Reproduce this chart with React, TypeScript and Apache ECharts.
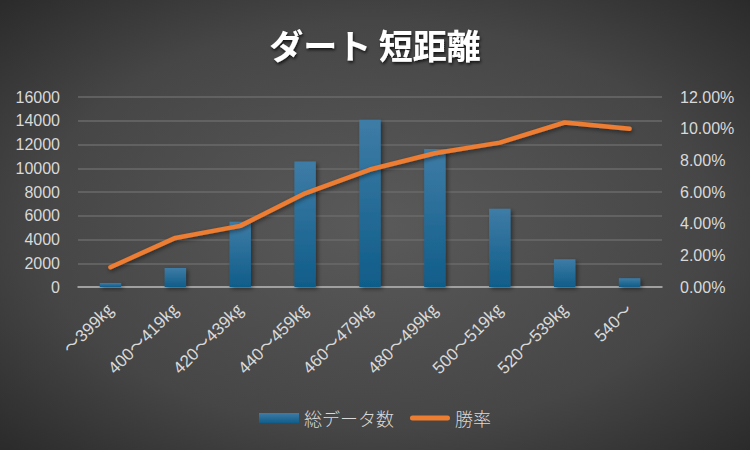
import React, { useEffect, useRef } from "react";
import * as echarts from "echarts";

const categories = ["～399㎏", "400～419㎏", "420～439㎏", "440～459㎏", "460～479㎏", "480～499㎏", "500～519㎏", "520～539㎏", "540～"];
const totalData = [340, 1600, 5490, 10560, 14080, 11630, 6590, 2340, 740];
const winRate = [0.0125, 0.031, 0.0386, 0.0592, 0.0742, 0.0845, 0.0912, 0.1039, 0.0999];
const leftTicks = { min: 0, max: 16000, interval: 2000 };
const rightTicks = { min: 0, max: 0.12, interval: 0.02 };

const FONT = '"Liberation Sans", "Noto Sans CJK JP", sans-serif';
const CJK = '"Noto Sans CJK JP", sans-serif';

export default function App() {
  const ref = useRef<HTMLDivElement>(null);
  useEffect(() => {
    document.body.style.margin = "0";
    const chart = echarts.init(ref.current!, null, { renderer: "svg" });
    chart.setOption({
      animation: false,
      backgroundColor: new echarts.graphic.RadialGradient(0.5, 0.5, 0.75, [
        { offset: 0, color: "#5a5a5a" },
        { offset: 0.6, color: "#464646" },
        { offset: 1, color: "#262626" },
      ]),
      title: {
        text: "ダート 短距離",
        left: "center",
        top: 22,
        textStyle: {
          color: "#ffffff",
          fontSize: 34,
          fontWeight: "bold",
          fontFamily: CJK,
          textShadowColor: "rgba(0,0,0,0.7)",
          textShadowBlur: 3,
          textShadowOffsetX: 1,
          textShadowOffsetY: 2,
        },
      },
      grid: { left: 78, right: 88, top: 97, bottom: 163 },
      legend: {
        bottom: 18,
        left: "center",
        itemGap: 16,
        itemWidth: 40,
        itemHeight: 10,
        textStyle: { color: "#d9d9d9", fontSize: 18, fontWeight: 300, fontFamily: CJK },
        data: [
          { name: "総データ数", icon: "rect" },
          {
            name: "勝率",
            icon: "path://M0,0L0,0M0,10L0,10M2.5,2.5H37.5A2.5,2.5,0,0,1,37.5,7.5H2.5A2.5,2.5,0,0,1,2.5,2.5Z",
            itemStyle: { color: "#ed7d31" },
          },
        ],
      },
      xAxis: {
        type: "category",
        data: categories,
        axisLine: { lineStyle: { color: "#b5b5b5", width: 1.5 } },
        axisTick: { show: false },
        axisLabel: {
          rotate: 45,
          color: "#d9d9d9",
          fontSize: 17,
          fontFamily: FONT,
          interval: 0,
          margin: 20,
        },
      },
      yAxis: [
        {
          type: "value",
          ...leftTicks,
          axisLine: { show: false },
          axisTick: { show: false },
          splitLine: { lineStyle: { color: "#6a6a6a", width: 1.5 } },
          axisLabel: {
            color: "#d9d9d9",
            fontSize: 16,
            fontFamily: FONT,
            margin: 18,
            formatter: (v: number) => String(v),
          },
        },
        {
          type: "value",
          ...rightTicks,
          axisLine: { show: false },
          axisTick: { show: false },
          splitLine: { show: false },
          axisLabel: {
            color: "#d9d9d9",
            fontSize: 16,
            fontFamily: FONT,
            margin: 18,
            formatter: (v: number) => (v * 100).toFixed(2) + "%",
          },
        },
      ],
      series: [
        {
          name: "総データ数",
          type: "bar",
          data: totalData,
          barWidth: "33%",
          itemStyle: {
            color: new echarts.graphic.LinearGradient(0, 0, 0, 1, [
              { offset: 0, color: "#3e7ca6" },
              { offset: 1, color: "#105d8a" },
            ]),
            shadowColor: "rgba(0,0,0,0.45)",
            shadowBlur: 4,
            shadowOffsetX: 2,
            shadowOffsetY: 2,
          },
        },
        {
          name: "勝率",
          type: "line",
          yAxisIndex: 1,
          data: winRate,
          symbol: "none",
          itemStyle: { color: "#ed7d31" },
          lineStyle: {
            color: "#ed7d31",
            width: 4.5,
            cap: "round",
            join: "round",
            shadowColor: "rgba(0,0,0,0.45)",
            shadowBlur: 4,
            shadowOffsetX: 1,
            shadowOffsetY: 2,
          },
        },
      ],
    });
    return () => chart.dispose();
  }, []);
  return <div ref={ref} style={{ width: 750, height: 450 }} />;
}
